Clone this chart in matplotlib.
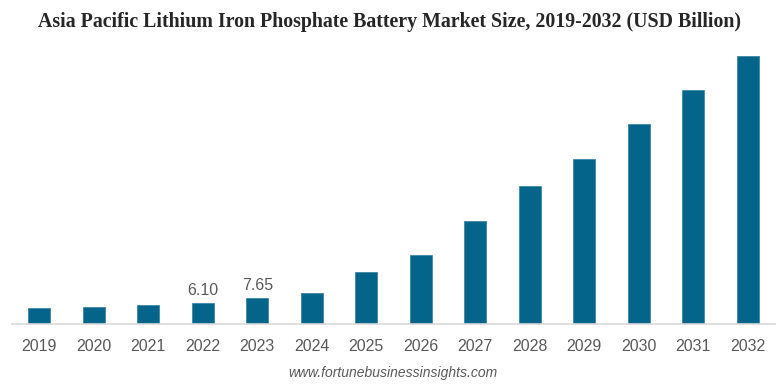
import matplotlib.pyplot as plt
import numpy as np

years = ['2019', '2020', '2021', '2022', '2023', '2024', '2025', '2026',
         '2027', '2028', '2029', '2030', '2031', '2032']
market_size = [4.62, 5.00, 5.59, 6.10, 7.65, 9.03, 15.2, 20.2,
               30.3, 40.5, 48.5, 58.7, 68.8, 78.9]
labelled = {'2022': '6.10', '2023': '7.65'}

fig = plt.figure(figsize=(7.78, 3.88), dpi=100)
# axes placed in pixels: x 12..775, baseline at y=324 from top
ax = fig.add_axes([12 / 778, 64 / 388, 763 / 778, 274 / 388])

x = np.arange(len(years))
ax.bar(x, market_size, width=0.4, color='#05648a', edgecolor='#3f86a3', linewidth=0.6)

for i, yr in enumerate(years):
    if yr in labelled:
        ax.text(i, market_size[i] + 1.5, labelled[yr], ha='center', va='bottom',
                fontsize=11.5, color='#595959', family='Liberation Sans')

ax.set_xlim(-0.5, len(years) - 0.5)
ax.set_ylim(0, 80.6)
ax.set_xticks(x)
ax.set_xticklabels(years, fontsize=11.5, color='#595959', family='Liberation Sans')
ax.tick_params(axis='x', length=0, pad=11)
ax.set_yticks([])
for s in ['top', 'right', 'left']:
    ax.spines[s].set_visible(False)
ax.spines['bottom'].set_color('#d9d9d9')
ax.spines['bottom'].set_linewidth(1.2)

fig.text(0.5, 1 - 22 / 388, 'Asia Pacific Lithium Iron Phosphate Battery Market Size, 2019-2032 (USD Billion)',
         ha='center', va='center', fontsize=14.3, fontweight='bold', color='#262626',
         family='Liberation Serif')
fig.text(0.505, 1 - 373 / 388, 'www.fortunebusinessinsights.com', ha='center', va='center',
         fontsize=10, style='italic', color='#595959', family='Liberation Sans')

plt.savefig('out.png', dpi=100)
